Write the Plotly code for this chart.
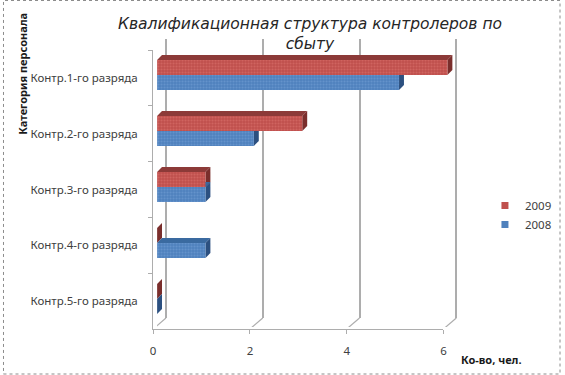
import plotly.graph_objects as go

categories = ["Контр.1-го разряда", "Контр.2-го разряда", "Контр.3-го разряда", "Контр.4-го разряда", "Контр.5-го разряда"]
values_2009 = [6, 3, 1, 0, 0]
values_2008 = [5, 2, 1, 1, 0]
x_ticks = [0, 2, 4, 6]
X_MAX = 6

W, H = 565, 375
PXU = 49.0
PXC = 56.0
def dom_x(a, b): return [a / W, b / W]
def dom_y(top, bottom): return [1 - bottom / H, 1 - top / H]

RED, RED_DK, RED_TOP = "#c0504d", "#7a2e2c", "#8c3a38"
BLUE, BLUE_DK, BLUE_TOP = "#4f81bd", "#2c5080", "#3a6aa0"
GRID = "#adadad"
TXT = "#404040"
BAR_H = 15 / PXC
DX, DY = 5 / PXU, 5 / PXC

fig = go.Figure()
# front axes (ticks, category labels)
fig.add_trace(go.Scatter(x=[0] * 5, y=categories, mode="markers", marker=dict(opacity=0), xaxis="x", yaxis="y",
                         showlegend=False, hoverinfo="skip"))
# back wall
fig.add_trace(go.Scatter(x=[0, X_MAX], y=[0, 1], mode="markers", marker=dict(opacity=0), xaxis="x2", yaxis="y2",
                         showlegend=False, hoverinfo="skip"))

positions = list(range(len(categories)))
# depth faces
def faces(vals, off, top_c, side_c):
    for p, v in zip(positions, vals):
        y0 = p + off
        y1 = y0 + BAR_H
        fig.add_trace(go.Scatter(x=[0, v, v + DX, DX, 0], y=[y0, y0, y0 - DY, y0 - DY, y0], fill="toself", mode="none",
                                 fillcolor=top_c, xaxis="x3", yaxis="y3", showlegend=False, hoverinfo="skip"))
        fig.add_trace(go.Scatter(x=[v, v + DX, v + DX, v, v], y=[y0, y0 - DY, y1 - DY, y1, y0], fill="toself", mode="none",
                                 fillcolor=side_c, xaxis="x3", yaxis="y3", showlegend=False, hoverinfo="skip"))

faces(values_2009, -BAR_H, RED_TOP, RED_DK)
faces(values_2008, 0, BLUE_TOP, BLUE_DK)

# front faces
for name, vals, col, fg in [("2009", values_2009, RED, "#e07a76"), ("2008", values_2008, BLUE, "#7ba6dc")]:
    fig.add_trace(go.Bar(name=name, y=positions, x=vals, orientation="h", xaxis="x4", yaxis="y4", showlegend=False,
                         marker=dict(color=col, line=dict(width=0),
                                     pattern=dict(shape=".", size=3, solidity=0.35, fgcolor=fg, bgcolor=col))))
    # legend key (small square, no data of its own)
    fig.add_trace(go.Scatter(name=name, x=[None], y=[None], mode="markers", xaxis="x4", yaxis="y4", legendgroup=name,
                             marker=dict(symbol="square", size=7, color=col), hoverinfo="skip"))

# floor diagonals and top-left edge of the side wall, on the bar axes
fx, fy = -4 / PXU, 4.5 + 2 / PXC
for t in x_ticks:
    fig.add_trace(go.Scatter(x=[t + fx, t + fx + 13 / PXU], y=[fy, fy - 11 / PXC], mode="lines", line=dict(color=GRID, width=1.2),
                             xaxis="x4", yaxis="y4", showlegend=False, hoverinfo="skip", cliponaxis=False))
fig.add_trace(go.Scatter(x=[fx, fx + 13 / PXU], y=[fy - 5, fy - 5 - 11 / PXC], mode="lines", line=dict(color=GRID, width=1.2),
                         xaxis="x4", yaxis="y4", showlegend=False, hoverinfo="skip", cliponaxis=False))

font = dict(family="Noto Sans, sans-serif", size=11.5, color=TXT)
hidden = dict(visible=False, fixedrange=True)
fig.update_layout(
    width=W, height=H, autosize=False,
    margin=dict(l=0, r=0, t=0, b=0),
    paper_bgcolor="white", plot_bgcolor="rgba(0,0,0,0)",
    font=font,
    barmode="group", bargap=1 - 2 * BAR_H, bargroupgap=0,
    xaxis=dict(domain=dom_x(152, 446), range=[0, X_MAX], tickvals=x_ticks, ticks="outside", ticklen=4, tickcolor=GRID,
               showline=True, linecolor=GRID, linewidth=1.2, showgrid=False, zeroline=False, tickfont=font, anchor="y",
               ticklabelstandoff=7),
    yaxis=dict(domain=dom_y(50, 329), type="category", categoryorder="array", categoryarray=categories,
               range=[4.5, -0.5], tickson="boundaries", ticks="outside", ticklen=4, tickcolor=GRID,
               showline=True, linecolor=GRID, linewidth=1.2, showgrid=False, zeroline=False, tickfont=font, anchor="x",
               ticklabelstandoff=12),
    # back wall axis is one unit wider on each side so the grid lines at 0 and 6 are kept
    xaxis2=dict(domain=dom_x(165 - PXU, 459 + PXU), range=[-1, X_MAX + 1], tickvals=x_ticks, showticklabels=False, ticks="",
                showgrid=True, gridcolor=GRID, gridwidth=1.5, zeroline=False, anchor="y2"),
    yaxis2=dict(domain=dom_y(39, 318), range=[0, 1], anchor="x2", **hidden),
    xaxis3=dict(domain=dom_x(156, 156 + 7 * PXU), range=[0, 7], anchor="y3", **hidden),
    yaxis3=dict(domain=dom_y(47, 327), range=[4.5, -0.5], anchor="x3", **hidden),
    xaxis4=dict(domain=dom_x(156, 156 + 7 * PXU), range=[0, 7], anchor="y4", **hidden),
    yaxis4=dict(domain=dom_y(47, 327), range=[4.5, -0.5], anchor="x4", **hidden),
    legend=dict(x=488 / W, y=1 - 191 / H, xanchor="left", yanchor="top", font=font, bgcolor="rgba(0,0,0,0)",
                itemwidth=30, tracegroupgap=14, traceorder="normal", itemsizing="trace"),
    title=dict(text="Квалификационная структура контролеров по<br>сбыту", x=310 / W, xanchor="center",
               y=1 - 29 / H, yanchor="top", font=dict(family="DejaVu Sans", size=15.5, color="#262626", style="italic")),
    annotations=[
        dict(text="<b>Категория персонала</b>", x=19 / W, y=1 - 74 / H, xref="paper", yref="paper", textangle=-90, showarrow=False,
             font=dict(family="Noto Sans", size=11, color="#1a1a1a"), xanchor="center", yanchor="middle"),
        dict(text="<b>Ко-во, чел.</b>", x=495 / W, y=1 - 359 / H, xref="paper", yref="paper", showarrow=False,
             font=dict(family="Noto Sans", size=11, color="#1a1a1a"), xanchor="center", yanchor="middle"),
    ],
    shapes=[dict(type="rect", xref="paper", yref="paper", x0=0.5 / W, x1=1 - 1 / W, y0=1 / H, y1=1 - 0.5 / H,
                 line=dict(color="#8c8c8c", width=1, dash="dot"))],
)
fig.write_html(
    "out.html",
    default_width=f"{W}px", default_height=f"{H}px",
    config={"responsive": False, "displayModeBar": False},
    post_script="document.body.style.margin='0';document.body.style.overflow='hidden';",
)
